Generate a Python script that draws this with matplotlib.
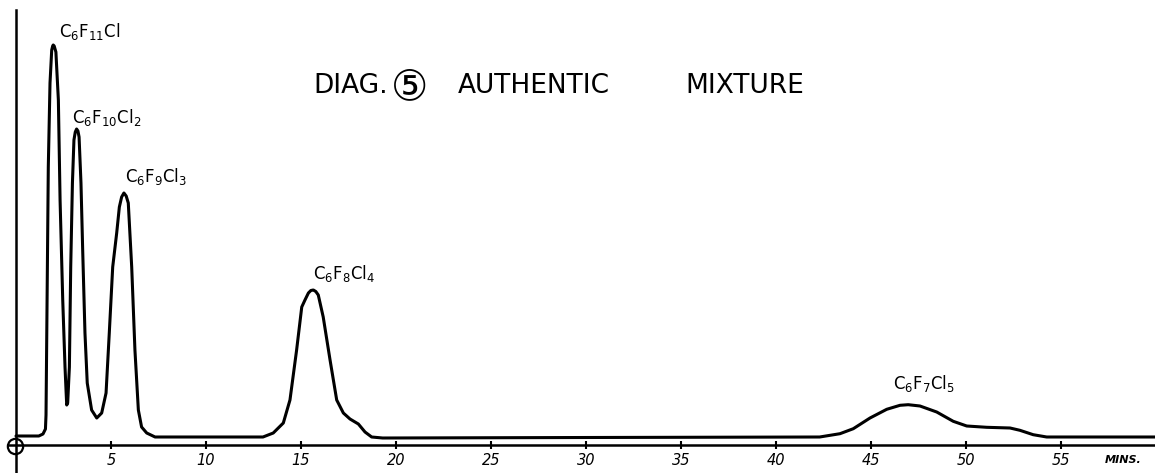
import matplotlib.pyplot as plt

# trace: retention time (min) and pen height (arbitrary)
time = [0.0, 1.2, 1.42, 1.55, 1.58, 1.62, 1.70, 1.79, 1.88, 1.93, 1.96, 2.01, 2.10, 2.23, 2.32, 2.46, 2.58,
        2.64, 2.67, 2.72,
        2.81, 2.88, 2.97, 3.05, 3.12, 3.19, 3.26, 3.32, 3.42, 3.51, 3.63, 3.75, 3.98, 4.25, 4.51,
        4.74, 4.91, 5.09, 5.30, 5.44, 5.56, 5.68, 5.80, 5.91, 6.09, 6.26, 6.44, 6.61, 6.88, 7.32,
        13.0, 13.54, 14.07, 14.42, 14.77, 15.04, 15.21, 15.39, 15.52, 15.65, 15.78, 15.91, 16.17, 16.53,
        16.88, 17.23, 17.58, 18.02, 18.37, 18.72, 19.3,
        30.0, 42.3, 43.37, 44.07, 44.95, 45.83, 46.53, 46.96, 47.58, 48.46, 49.33, 50.04,
        51.09, 52.32, 52.84, 53.54, 54.25, 54.95, 59.95]
signal = [9, 9, 11, 16, 30, 112, 278, 362, 395, 399, 400, 399, 393, 345, 245, 145, 78,
          52, 40, 42,
          78, 178, 262, 305, 313, 316, 314, 308, 262, 195, 112, 62, 35, 27, 32,
          52, 112, 178, 212, 238, 248, 252, 249, 242, 178, 95, 35, 18, 12, 8,
          8, 12, 22, 45, 95, 138, 145, 152, 154.5, 155, 153.5, 150, 128, 85,
          45, 32, 26, 21, 13, 8, 7,
          7.5, 8, 11.3, 16.3, 27, 35.7, 39.7, 40.3, 39, 33, 23.7, 19,
          17.7, 17, 14.7, 10.3, 8, 8, 8]

# peaks and their labels
peak_names = [r'C$_6$F$_{11}$Cl', r'C$_6$F$_{10}$Cl$_2$', r'C$_6$F$_9$Cl$_3$',
              r'C$_6$F$_8$Cl$_4$', r'C$_6$F$_7$Cl$_5$']
peak_time = [1.96, 3.19, 5.68, 15.65, 46.96]
peak_top = [400, 316, 252, 155, 40.3]
label_off = [(4, 2), (-3, 1), (1, 4), (0, 4), (-11, 8)]  # points

xticks = [5, 10, 15, 20, 25, 30, 35, 40, 45, 50, 55]

fig = plt.figure(figsize=(11.55, 4.73), dpi=100)
ax = fig.add_axes([0, 0, 1, 1])

ax.plot(time, signal, color='black', lw=2.2, solid_capstyle='round', solid_joinstyle='round')

for name, t, h, off in zip(peak_names, peak_time, peak_top, label_off):
    ax.annotate(name, (t, h), xytext=off, textcoords='offset points',
                ha='left', va='bottom', fontsize=12)

ax.set_xlim(-0.842, 59.95)
ax.set_ylim(-28, 445)

for s in ['top', 'right']:
    ax.spines[s].set_visible(False)
ax.spines['left'].set_position(('data', 0))
ax.spines['bottom'].set_position(('data', 0))
ax.spines['left'].set_bounds(-28, 435)
ax.spines['bottom'].set_bounds(-0.4, 59.95)
ax.spines['left'].set_linewidth(1.8)
ax.spines['bottom'].set_linewidth(1.8)

ax.set_yticks([])
ax.set_xticks(xticks, [str(v) for v in xticks], fontstyle='italic', fontsize=10.5)
ax.tick_params(axis='x', direction='inout', length=6, width=1.5, pad=3)

# little circle at the origin
ax.plot([-0.05], [-1], 'o', ms=11, mfc='none', mec='black', mew=1.6, clip_on=False)

ax.text(57.3, -15, 'MINS.', fontsize=8, fontweight='bold', fontstyle='italic', va='center', ha='left')

fam = ['DejaVu Sans', 'Noto Sans CJK JP']
fig.text(313 / 1155, 1 - 93 / 473, 'DIAG.', fontsize=19, family=fam, va='baseline')
fig.text(391 / 1155, 1 - 99 / 473, '\u2464', fontsize=30, family=fam, va='baseline')
fig.text(458 / 1155, 1 - 93 / 473, 'AUTHENTIC', fontsize=19, family=fam, va='baseline')
fig.text(685 / 1155, 1 - 93 / 473, 'MIXTURE', fontsize=19, family=fam, va='baseline')

fig.savefig('out.png', dpi=100)
